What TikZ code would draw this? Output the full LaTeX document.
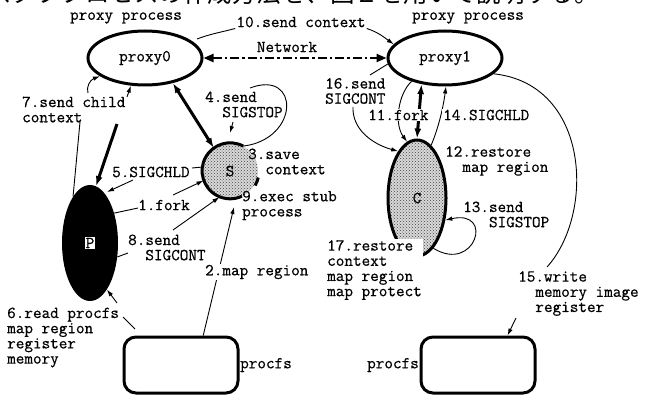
\documentclass[tikz,border=0pt]{standalone}
\usepackage{fontspec}
\newfontfamily\jpfont{Noto Sans CJK JP}
\newfontfamily\monof[FakeBold=0.6]{Latin Modern Mono}
\usetikzlibrary{arrows.meta,shapes.geometric,patterns}
\begin{document}
\begin{tikzpicture}[x=1pt,y=1pt,
  lab/.style={font=\monof\fontsize{16.7}{15.2}\selectfont, inner sep=1pt, align=left, anchor=west},
  wlab/.style={lab, fill=white},
  proc/.style={ellipse, draw, line width=3pt, minimum width=114pt, minimum height=54pt, inner sep=0pt, font=\monof\fontsize{16.7}{15.2}\selectfont},
  stip/.style={preaction={fill=gray!30}, pattern=crosshatch dots, pattern color=black!75},
  fsbox/.style={draw, line width=3pt, rounded corners=12pt, minimum width=114pt, minimum height=56pt, inner sep=0pt},
  cn/.style={line width=0.9pt},
  arr/.style={cn, -{Latex[length=7pt,width=4.5pt]}},
  fat/.style={line width=3pt, -{Latex[length=10pt,width=7pt]}},
  fattwo/.style={line width=3pt, {Latex[length=10pt,width=7pt]}-{Latex[length=10pt,width=7pt]}},
]
\useasboundingbox (0,0) rectangle (650,394);
\clip (0,0) rectangle (650,394);
\fill[white] (0,0) rectangle (650,394);

% cut-off Japanese line at the top
\node[anchor=base west, inner sep=0pt, font=\jpfont\fontsize{24.5}{24.5}\selectfont] (jp) at (-13,391) {スタブプロセスの作成方法を、図２を用いて説明する。};

% main nodes
\node[proc] (proxy0) at (145,336) {proxy0};
\node[proc] (proxy1) at (445,336) {proxy1};
\node[circle, stip, minimum size=56pt, inner sep=0pt, font=\monof\fontsize{16.7}{15.2}\selectfont] (S) at (230,223) {S};
\node[ellipse, fill=black, minimum width=56pt, minimum height=116pt, inner sep=0pt] (P) at (90,151) {};
\node[ellipse, draw, line width=3pt, stip, minimum width=58pt, minimum height=116pt, inner sep=0pt, font=\monof\fontsize{16.7}{15.2}\selectfont] (C) at (417,196) {C};
\node[fsbox] (fs0) at (181,29) {};
\node[fsbox] (fs1) at (478,29) {};

% outline of S (open on the right)
\draw[line width=3pt] (S.62) arc[start angle=62, end angle=295, radius=28pt];
\draw[line width=3pt] ([shift={(-30:29pt)}]S.center) arc[start angle=-30, end angle=-13, radius=29pt];

% text labels
\node[lab, anchor=center] (pp0) at (126,376) {proxy process};
\node[lab, anchor=center] (pp1) at (468,376) {proxy process};
\node[lab, anchor=center] (lbl10) at (301,372) {10.send context};
\node[lab, anchor=center] (net) at (287,347) {Network};
\node[lab] (lbl7) at (21,284.5) {7.send child\\context};
\node[lab] (lbl4) at (204,289.5) {4.send\\\phantom{xx}SIGSTOP};
\node[lab] (lbl3) at (247,232.5) {3.save\\\phantom{xx}context};
\node[lab] (lbl9) at (241,188.5) {9.exec stub\\process};
\node[lab] (lbl5) at (111,222) {5.SIGCHLD};
\node[lab] (lbl1) at (137,189) {1.fork};
\node[lab] (lbl8) at (127,146.5) {8.send\\\phantom{xx}SIGCONT};
\node[lab] (lbl6) at (6,56.5) {6.read procfs\\map region\\register\\memory};
\node[lab] (lbl16) at (324,303) {16.send\\SIGCONT};
\node[lab] (lbl12) at (444,233) {12.restore\\\phantom{xx}map region};
\node[lab] (lbl13) at (462,179.5) {13.send\\\phantom{xxx}SIGSTOP};
\node[lab] (lbl15) at (517,100.5) {15.write\\\phantom{xx}memory image\\\phantom{xx}register};
\node[lab, anchor=west] (pf0) at (239,29) {procfs};
\node[lab, anchor=east] (pf1) at (420,29) {procfs};

% connectors
\coordinate (t10) at (197,355);
\draw[cn] (t10) .. controls (210,360) and (222,362) .. (lbl10.south west);
\draw[arr] (lbl10.south east) .. controls (378,362) and (385,356) .. (proxy1.165);
\draw[line width=2.2pt, dash pattern=on 9pt off 3pt on 2.5pt off 3pt,
  {Triangle[length=10pt,width=8pt]}-{Triangle[length=10pt,width=8pt]}] (proxy0.east) -- (proxy1.west);

\coordinate (s7a) at (88,301);
\coordinate (s7b) at (127,297);
\coordinate (s7c) at (80,272);
\coordinate (sP) at (117,270);
\draw[arr] (s7a) .. controls (86,307) and (90,314) .. (proxy0.-158);
\draw[arr] (s7b) -- (proxy0.-117);
\draw[cn] (s7c) -- (P.110);
\draw[fat] (sP) -- (P.84);
\draw[fattwo] (proxy0.-42) -- (S.125);

\coordinate (e4) at (250,306);
\coordinate (s4) at (233,272);
\coordinate (e4b) at (230,261);
\draw[cn] (S.62) .. controls (300,255) and (300,325) .. (e4);
\draw[arr] (s4) -- (e4b);

\coordinate (e5) at (192,226);
\coordinate (s5) at (133,214);
\coordinate (e5b) at (107,202);
\draw[cn] (S.172) -- (e5);
\draw[arr] (s5) -- (e5b);

\coordinate (e1) at (138,186);
\coordinate (s1) at (173,199);
\draw[cn] (P.51) -- (e1);
\draw[arr] (s1) -- (S.200);

\coordinate (e8) at (128,141);
\coordinate (s8) at (173,164);
\draw[cn] (P.-27) -- (e8);
\draw[arr] (s8) -- (S.-112);

\coordinate (e2) at (234,187);
\draw[arr] (fs0.53) -- (e2);

\coordinate (s6) at (135,65);
\coordinate (e6) at (123,77);
\coordinate (s6b) at (117,91);
\draw[cn] (s6) -- (e6);
\draw[arr] (s6b) -- (P.-70);

\coordinate (e16) at (370,319);
\coordinate (s16) at (353,287);
\draw[cn] (proxy1.186) -- (e16);
\draw[arr] (s16) .. controls (352,265) and (372,250) .. (C.112);

\draw[arr] (proxy1.-145) .. controls (398,300) and (394,270) .. (C.100);
\draw[fattwo] (proxy1.-132) -- (C.north);
\draw[arr] (C.75) .. controls (438,265) and (443,285) .. (proxy1.-88);

\coordinate (e15) at (547,127);
\coordinate (s15) at (516,76);
\draw[cn] (proxy1.-18) .. controls (590,310) and (595,180) .. (e15);
\draw[arr] (s15) -- (fs1.45);

\draw[arr] (C.-72) .. controls (475,120) and (495,185) .. (C.-38);

% labels that sit over lines
\node[wlab] (lbl2) at (204,122) {2.map region};
\node[wlab] (lbl11) at (367,279) {11.fork};
\node[wlab] (lbl14) at (442,279) {14.SIGCHLD};
\node[wlab] (lbl17) at (326,124) {17.restore\\context\\map region\\map protect};
\node[fill=white, inner sep=0.8pt, font=\monof\fontsize{16.7}{15.2}\selectfont] (Plbl) at (P) {P};
\end{tikzpicture}
\end{document}
